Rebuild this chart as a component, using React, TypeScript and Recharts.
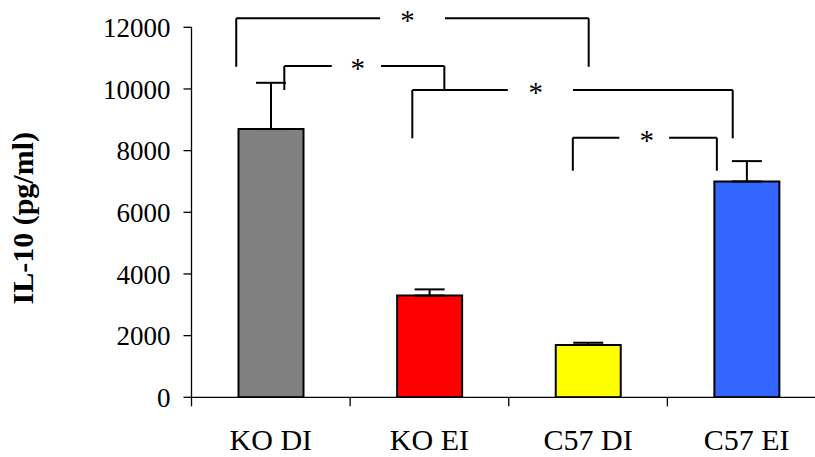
import React from 'react';
import {
  ComposedChart,
  Bar,
  XAxis,
  YAxis,
  Cell,
  ErrorBar,
  ReferenceLine,
  ReferenceDot,
  Label,
} from 'recharts';

// Groups and measured IL-10 levels (pg/ml)
const groups = ['KO DI', 'KO EI', 'C57 DI', 'C57 EI'];
const means = [8700, 3300, 1700, 7000];
const errors = [1500, 200, 70, 660];
const yTicks = [0, 2000, 4000, 6000, 8000, 10000, 12000];
// Group boundaries (tick marks) and group centres (labels) on the x scale
const xTicks = [0, 0.5, 1, 1.5, 2, 2.5, 3, 3.5, 4];

// Significance brackets, x in group units (group i spans i..i+1), y in pg/ml
const bracketFrom = [0.282, 0.585, 1.392, 2.404];
const bracketTo = [2.504, 1.594, 3.412, 3.312];
const bracketLevel = [12290, 10745, 9967, 8420];
const bracketDropLeft = [10720, 9967, 8400, 7350];
const bracketDropRight = [10720, 9967, 8400, 7350];
const gapStart = [1.189, 0.884, 1.994, 2.697];
const gapEnd = [1.598, 1.195, 2.405, 3.011];
const starX = [1.361, 1.048, 2.17, 2.87];

const barColors = ['#808080', '#FF0000', '#FFFF00', '#3366FF'];
const FONT = "'Liberation Serif', 'Times New Roman', serif";

const data = groups.map((name, i) => ({
  name,
  pos: i + 0.5,
  mean: means[i],
  err: [0, errors[i]],
}));

const Star = (props: any) => (
  <text
    x={props.cx}
    y={props.cy}
    dy={12}
    textAnchor="middle"
    fontFamily={FONT}
    fontSize={29}
    fill="#000"
  >
    *
  </text>
);

// Integer ticks draw a boundary mark; half ticks carry the group name.
const GroupTick = (props: any) => {
  const { x, y, payload } = props;
  const v = payload.value as number;
  if (Number.isInteger(v)) {
    return <line x1={x} y1={y - 9} x2={x} y2={y} stroke="#000" strokeWidth={1.3} />;
  }
  const name = groups[Math.floor(v)];
  return (
    <text
      x={x}
      y={y}
      dy={43.5}
      textAnchor="middle"
      fontFamily={FONT}
      fontSize={30}
      fill="#000"
    >
      {name}
    </text>
  );
};

export default function App() {
  const marks: React.ReactNode[] = [];
  bracketFrom.forEach((from, i) => {
    const to = bracketTo[i];
    const lvl = bracketLevel[i];
    const pieces = [
      [{ x: from, y: bracketDropLeft[i] }, { x: from, y: lvl }],
      [{ x: from, y: lvl }, { x: gapStart[i], y: lvl }],
      [{ x: gapEnd[i], y: lvl }, { x: to, y: lvl }],
      [{ x: to, y: lvl }, { x: to, y: bracketDropRight[i] }],
    ];
    pieces.forEach((seg, j) => {
      marks.push(
        <ReferenceLine
          key={`b${i}-${j}`}
          segment={seg as any}
          stroke="#000"
          strokeWidth={2}
          ifOverflow="visible"
        />
      );
    });
    marks.push(
      <ReferenceDot
        key={`s${i}`}
        x={starX[i]}
        y={lvl}
        r={0}
        ifOverflow="visible"
        shape={Star}
      />
    );
  });

  return (
    <div
      style={{
        position: 'absolute',
        left: 0,
        top: 0,
        width: 815,
        height: 457,
        overflow: 'hidden',
        background: '#fff',
        fontFamily: FONT,
      }}
    >
      <ComposedChart
        width={828}
        height={457}
        data={data}
        margin={{ top: 27.3, right: 2, bottom: 9.7, left: 0 }}
      >
        <XAxis
          dataKey="pos"
          type="number"
          domain={[0, 4]}
          ticks={xTicks}
          interval={0}
          allowDataOverflow
          tickLine={false}
          axisLine={{ stroke: '#000', strokeWidth: 1.3 }}
          tickSize={9}
          tickMargin={0}
          height={50}
          tick={<GroupTick />}
        />
        <YAxis
          domain={[0, 12000]}
          ticks={yTicks}
          width={191.5}
          tickSize={8}
          tickMargin={13}
          allowDataOverflow
          axisLine={{ stroke: '#000', strokeWidth: 1.3 }}
          tickLine={{ stroke: '#000', strokeWidth: 1.3 }}
          tick={{ fontSize: 27, fill: '#000', fontFamily: FONT }}
        >
          <Label
            content={() => (
              <text
                x={33.3}
                y={218.3}
                transform="rotate(-90, 33.3, 218.3)"
                textAnchor="middle"
                fontFamily={FONT}
                fontWeight="bold"
                fontSize={30}
                fill="#000"
              >
                IL-10 (pg/ml)
              </text>
            )}
          />
        </YAxis>
        <Bar
          dataKey="mean"
          barSize={65}
          stroke="#000"
          strokeWidth={2}
          isAnimationActive={false}
        >
          {data.map((d, i) => (
            <Cell key={d.name} fill={barColors[i]} />
          ))}
          <ErrorBar
            dataKey="err"
            direction="y"
            width={15}
            stroke="#000"
            strokeWidth={2}
            isAnimationActive={false}
          />
        </Bar>
        {marks}
      </ComposedChart>
    </div>
  );
}
